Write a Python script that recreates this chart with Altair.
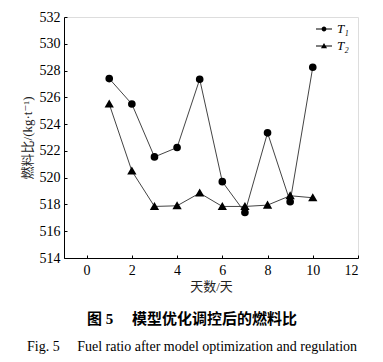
import altair as alt
import pandas as pd

days = [1, 2, 3, 4, 5, 6, 7, 8, 9, 10]
t1_values = [527.4, 525.5, 521.55, 522.25, 527.35, 519.7, 517.4, 523.35, 518.2, 528.25]
t2_values = [525.5, 520.5, 517.85, 517.9, 518.85, 517.85, 517.85, 517.95, 518.65, 518.5]
series_names = ["T₁", "T₂"]
x_ticks = [0, 2, 4, 6, 8, 10, 12]
y_ticks = [514, 516, 518, 520, 522, 524, 526, 528, 530, 532]

df = pd.DataFrame({
    "day": days + days,
    "value": t1_values + t2_values,
    "series": [series_names[0]] * len(days) + [series_names[1]] * len(days),
})

FONT = "Liberation Serif, DejaVu Serif, Noto Sans CJK SC"

# legend glyphs: a thin filled bar (the line sample) plus the marker
path_t1 = "M-1,-0.06H1V0.06H-1ZM0.3,0A0.3,0.3,0,1,1,-0.3,0A0.3,0.3,0,1,1,0.3,0Z"
path_t2 = "M-1,-0.06H1V0.06H-1ZM0,-0.38L0.38,0.28L-0.38,0.28Z"

axis_style = dict(
    domainColor="black", tickColor="black", tickSize={"expr": "-3"}, grid=False,
    labelFont=FONT, labelFontSize=14, labelColor="black",
    titleFont=FONT, titleFontSize=13, titleFontWeight="normal", titleColor="#222222",
)

x_enc = alt.X("day:Q", scale=alt.Scale(domain=[-1, 12], nice=False),
              axis=alt.Axis(values=x_ticks, title="天数/天", labelPadding=8, titlePadding=3, **axis_style))
y_enc = alt.Y("value:Q", scale=alt.Scale(domain=[514, 532], nice=False, zero=False),
              axis=alt.Axis(values=y_ticks, title="燃料比/(kg·t⁻¹)", labelPadding=7, titlePadding=5, **axis_style))

base = alt.Chart(df).encode(x=x_enc, y=y_enc)

lines = base.mark_line(color="#444444", strokeWidth=1).encode(detail="series:N")

points_t1 = base.transform_filter(alt.datum.series == series_names[0]).mark_point(
    shape="circle", filled=True, fill="black", stroke="black", opacity=1, size=32)
points_t2 = base.transform_filter(alt.datum.series == series_names[1]).mark_point(
    shape="triangle-up", filled=True, fill="black", stroke="black", opacity=1, size=34)

legend_layer = base.mark_point(filled=True, fill="black", opacity=1, strokeWidth=0, size=256).encode(
    shape=alt.Shape(
        "series:N",
        scale=alt.Scale(domain=series_names, range=[path_t1, path_t2]),
        legend=alt.Legend(
            title=None, orient="none", legendX=252, legendY=4, padding=0,
            symbolSize=256, symbolStrokeWidth=0, symbolFillColor="black",
            symbolOpacity=1, labelFont=FONT, labelFontSize=13, labelFontStyle="italic",
            labelColor="black", labelOffset=5, rowPadding=2,
        ),
    )
).transform_filter("false")

chart = alt.layer(lines, points_t1, points_t2, legend_layer).properties(
    width=294,
    height=241,
    autosize=alt.AutoSizeParams(type="none"),
    padding={"left": 56, "top": 9, "right": 17, "bottom": 100},
    title=alt.TitleParams(
        text="图 5　 模型优化调控后的燃料比",
        subtitle="Fig. 5\u2003 Fuel ratio after model optimization and regulation",
        orient="bottom", anchor="middle", dx=-19,
        font=FONT, fontSize=15, fontWeight="bold", color="black",
        subtitleFont=FONT, subtitleFontSize=14, subtitleColor="black",
        offset=19, subtitlePadding=13,
    ),
).configure_view(stroke="black", strokeWidth=1).configure(background="white")

chart.save("out.html", embed_options={"renderer": "svg", "actions": False})
